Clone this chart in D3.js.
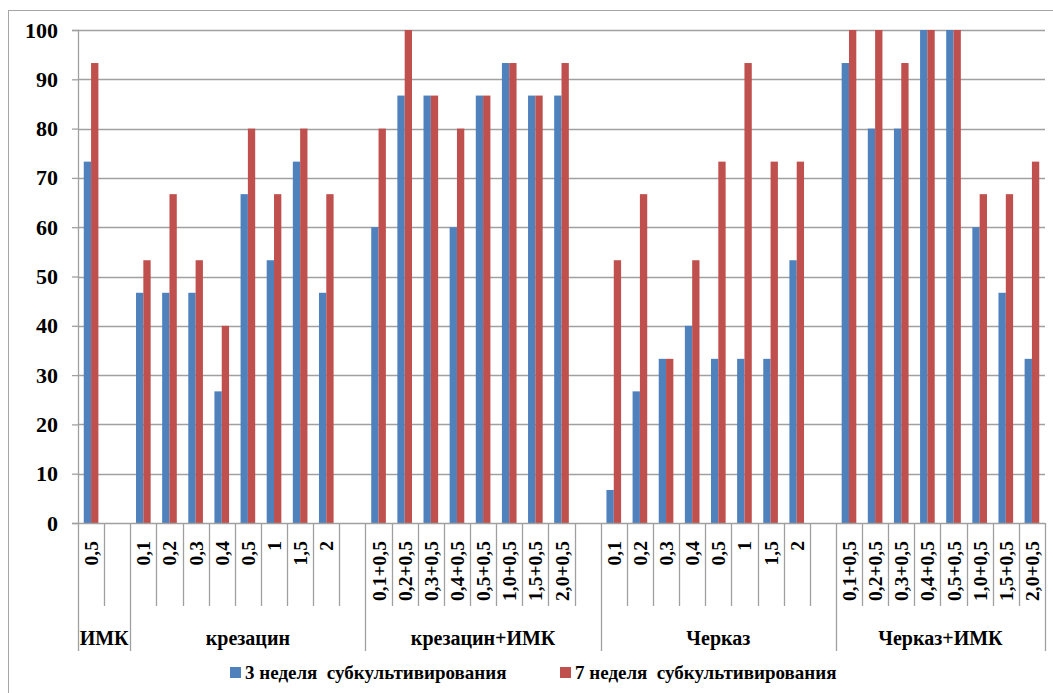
<!DOCTYPE html>
<html><head><meta charset="utf-8">
<script src="https://cdn.jsdelivr.net/npm/d3@7"></script>
<style>body{margin:0;background:#fff}svg{display:block}</style>
</head><body><svg id="c" width="1053" height="693"></svg>
<script>
const groups = ["ИМК", "крезацин", "крезацин+ИМК", "Черказ", "Черказ+ИМК"];
const labelsIMK = ["0,5"];
const labelsKrez = ["0,1", "0,2", "0,3", "0,4", "0,5", "1", "1,5", "2"];
const labelsKrezIMK = ["0,1+0,5", "0,2+0,5", "0,3+0,5", "0,4+0,5", "0,5+0,5", "1,0+0,5", "1,5+0,5", "2,0+0,5"];
const labelsCherk = ["0,1", "0,2", "0,3", "0,4", "0,5", "1", "1,5", "2"];
const labelsCherkIMK = ["0,1+0,5", "0,2+0,5", "0,3+0,5", "0,4+0,5", "0,5+0,5", "1,0+0,5", "1,5+0,5", "2,0+0,5"];
const week3 = [
  [73.3],
  [46.7, 46.7, 46.7, 26.7, 66.7, 53.3, 73.3, 46.7],
  [60, 86.7, 86.7, 60, 86.7, 93.3, 86.7, 86.7],
  [6.7, 26.7, 33.3, 40, 33.3, 33.3, 33.3, 53.3],
  [93.3, 80, 80, 100, 100, 60, 46.7, 33.3]
];
const week7 = [
  [93.3],
  [53.3, 66.7, 53.3, 40, 80, 66.7, 80, 66.7],
  [80, 100, 86.7, 80, 86.7, 93.3, 86.7, 93.3],
  [53.3, 66.7, 33.3, 53.3, 73.3, 93.3, 73.3, 73.3],
  [100, 100, 93.3, 100, 100, 66.7, 66.7, 73.3]
];
const yTicks = [0, 10, 20, 30, 40, 50, 60, 70, 80, 90, 100];
const seriesNames = ["3 неделя  субкультивирования", "7 неделя  субкультивирования"];
const colors = ["#4F81BD", "#C0504D"];

const FONT = "Liberation Serif";
const labelSets = [labelsIMK, labelsKrez, labelsKrezIMK, labelsCherk, labelsCherkIMK];
const slots = [];
const groupSpans = [];
labelSets.forEach((ls, g) => {
  const start = slots.length;
  ls.forEach((l, i) => slots.push({g, label: l, v3: week3[g][i], v7: week7[g][i]}));
  if (g < labelSets.length - 1) slots.push({g, label: "", spacer: true});
  groupSpans.push([start, slots.length]);
});

const svg = d3.select("#c");
const L = 78, R = 1045, T = 30, B = 523;
const x = d3.scaleBand().domain(d3.range(slots.length)).range([L, R]).padding(0);
const y = d3.scaleLinear().domain([0, 100]).range([B, T]);
const bw = x.bandwidth();
const barW = bw * 0.28;
const gridCol = "#a0a0a0";

svg.append("rect").attr("x", 8.5).attr("y", 10.5).attr("width", 1060).attr("height", 700)
  .attr("fill", "none").attr("stroke", "#a6a6a6").attr("stroke-width", 1);

svg.append("g").selectAll("line").data(yTicks.filter(d => d > 0)).join("line")
  .attr("x1", L).attr("x2", R).attr("y1", d => Math.round(y(d)) + 0.5).attr("y2", d => Math.round(y(d)) + 0.5)
  .attr("stroke", gridCol).attr("stroke-width", 1.3);

const ya = svg.append("g").attr("transform", `translate(${L},0)`)
  .call(d3.axisLeft(y).tickValues(yTicks).tickSize(6).tickPadding(14));
ya.attr("font-family", FONT).attr("font-size", 22).attr("font-weight", "bold");
ya.select(".domain").attr("stroke", gridCol).attr("stroke-width", 1.3);
ya.selectAll(".tick line").attr("stroke", gridCol).attr("stroke-width", 1.3);
ya.selectAll(".tick text").attr("fill", "#000");

const bars = svg.append("g");
const real = slots.filter(s => !s.spacer);
bars.selectAll("rect.s3").data(real).join("rect").attr("class", "s3")
  .attr("x", s => x(slots.indexOf(s)) + bw / 2 - barW).attr("width", barW)
  .attr("y", s => y(s.v3)).attr("height", s => y(0) - y(s.v3)).attr("fill", colors[0]);
bars.selectAll("rect.s7").data(real).join("rect").attr("class", "s7")
  .attr("x", s => x(slots.indexOf(s)) + bw / 2).attr("width", barW)
  .attr("y", s => y(s.v7)).attr("height", s => y(0) - y(s.v7)).attr("fill", colors[1]);

svg.append("line").attr("x1", L).attr("x2", R).attr("y1", B + 0.5).attr("y2", B + 0.5)
  .attr("stroke", gridCol).attr("stroke-width", 1.3);

const boundaries = d3.range(slots.length + 1);
const groupStarts = new Set(groupSpans.map(s => s[0]).concat([slots.length]));
svg.append("g").selectAll("line").data(boundaries).join("line")
  .attr("x1", i => Math.round(i < slots.length ? x(i) : R) + 0.5)
  .attr("x2", i => Math.round(i < slots.length ? x(i) : R) + 0.5)
  .attr("y1", B).attr("y2", i => groupStarts.has(i) ? 651 : 606)
  .attr("stroke", gridCol).attr("stroke-width", 1.3);

svg.append("g").attr("font-family", FONT).attr("font-weight", "bold").attr("font-size", 19.5)
  .selectAll("text").data(real).join("text")
  .attr("transform", s => `translate(${x(slots.indexOf(s)) + bw / 2 + 7},541) rotate(-90)`)
  .attr("text-anchor", "end").attr("fill", "#000").text(s => s.label);

svg.append("g").attr("font-family", FONT).attr("font-weight", "bold").attr("font-size", 20)
  .selectAll("text").data(groups).join("text")
  .attr("x", (g, i) => (x(groupSpans[i][0]) + (groupSpans[i][1] < slots.length ? x(groupSpans[i][1]) : R)) / 2)
  .attr("y", 645).attr("text-anchor", "middle").attr("fill", "#000").text(g => g);

const leg = [{x: 230, c: colors[0], t: seriesNames[0]}, {x: 560, c: colors[1], t: seriesNames[1]}];
const lg = svg.append("g").attr("font-family", FONT).attr("font-weight", "bold").attr("font-size", 19);
lg.selectAll("rect").data(leg).join("rect").attr("x", d => d.x).attr("y", 667).attr("width", 11).attr("height", 11).attr("fill", d => d.c);
lg.selectAll("text").data(leg).join("text").attr("x", d => d.x + 15).attr("y", 679)
  .attr("fill", "#000").attr("xml:space", "preserve").style("white-space", "pre").text(d => d.t);
</script></body></html>
